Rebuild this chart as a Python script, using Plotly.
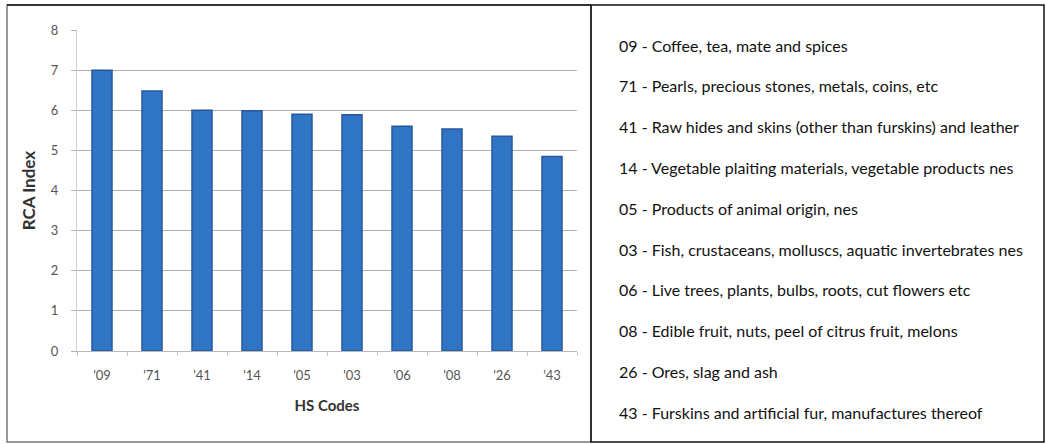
import plotly.graph_objects as go

# HS chapter codes, RCA index values and their descriptions
hs_codes = ["'09", "'71", "'41", "'14", "'05", "'03", "'06", "'08", "'26", "'43"]
rca_index = [7.0, 6.48, 6.0, 5.99, 5.9, 5.89, 5.6, 5.53, 5.35, 4.85]
descriptions = [
    "09 - Coffee, tea, mate and spices",
    "71 - Pearls, precious stones, metals, coins, etc",
    "41 - Raw hides and skins (other than furskins) and leather",
    "14 - Vegetable plaiting materials, vegetable products nes",
    "05 - Products of animal origin, nes",
    "03 - Fish, crustaceans, molluscs, aquatic invertebrates nes",
    "06 - Live trees, plants, bulbs, roots, cut flowers etc",
    "08 - Edible fruit, nuts, peel of citrus fruit, melons",
    "26 - Ores, slag and ash",
    "43 - Furskins and artificial fur, manufactures thereof",
]
y_ticks = [0, 1, 2, 3, 4, 5, 6, 7, 8]

W, H = 1046, 444
ML, MR, MT, MB = 77, 469, 30, 93
PW, PH = W - ML - MR, H - MT - MB


def px(x):
    return (x - ML) / PW


def py(y):
    return 1 - (y - MT) / PH


AXIS_FONT = "Lato"

fig = go.Figure()
fig.add_trace(go.Bar(
    x=hs_codes,
    y=rca_index,
    marker=dict(color="#3074c4", line=dict(color="#2558a0", width=1.5)),
    width=0.4,
    showlegend=False,
))

shapes = [
    # frame around the chart panel
    dict(type="rect", xref="paper", yref="paper",
         x0=px(7), x1=px(591), y0=py(442), y1=py(5),
         line=dict(color="#7a7a7a", width=1.5), layer="below"),
    dict(type="line", xref="paper", yref="paper",
         x0=px(7), x1=px(591), y0=py(5), y1=py(5),
         line=dict(color="#333333", width=2)),
    # frame around the description panel
    dict(type="rect", xref="paper", yref="paper",
         x0=px(591), x1=px(1044), y0=py(442), y1=py(5),
         line=dict(color="#111111", width=1.5)),
]

annotations = []
for i, text in enumerate(descriptions):
    yc = 45 + i * 40.8
    annotations.append(dict(
        text=text, xref="paper", yref="paper",
        x=px(617), y=py(yc), xanchor="left", yanchor="middle",
        showarrow=False, font=dict(family="Lato", size=16, color="#111111"),
    ))

fig.update_layout(
    width=W, height=H,
    margin=dict(l=ML, r=MR, t=MT, b=MB),
    paper_bgcolor="white",
    plot_bgcolor="white",
    shapes=shapes,
    annotations=annotations,
    xaxis=dict(
        showline=True, linecolor="#b8b8b8", linewidth=1,
        ticks="outside", tickson="boundaries", ticklen=4, tickcolor="#c8c8c8",
        tickfont=dict(family=AXIS_FONT, size=13, color="#555555"),
        ticklabelstandoff=12,
        title=dict(text="<b>HS Codes</b>", standoff=18,
                   font=dict(family=AXIS_FONT, size=15, color="#333333")),
        fixedrange=True,
    ),
    yaxis=dict(
        range=[0, 8], tickvals=y_ticks,
        showgrid=True, gridcolor="#b0b0b0", gridwidth=1,
        showline=True, linecolor="#cfcfcf", linewidth=1,
        ticks="outside", ticklen=5, tickcolor="#b0b0b0",
        tickfont=dict(family=AXIS_FONT, size=13, color="#555555"),
        ticklabelstandoff=10,
        zeroline=False,
        title=dict(text="<b>RCA Index</b>", standoff=10,
                   font=dict(family=AXIS_FONT, size=17, color="#333333")),
        fixedrange=True,
    ),
)

fig.write_html("out.html")
